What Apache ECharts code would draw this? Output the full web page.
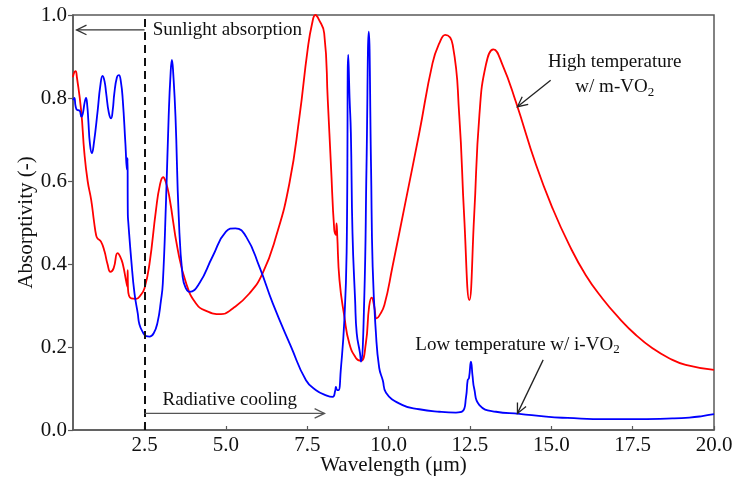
<!DOCTYPE html>
<html>
<head>
<meta charset="utf-8">
<script src="https://cdn.jsdelivr.net/npm/echarts@6/dist/echarts.min.js"></script>
<style>html,body{margin:0;padding:0;background:#fff}#c{width:743px;height:481px}</style>
</head>
<body>
<div id="c"></div>
<script>
// Wavelength (µm) and absorptivity for the high-temperature (m-VO2) curve
const highX = [0.30,0.34,0.38,0.42,0.55,0.65,0.75,0.86,0.95,1.01,1.05,1.16,1.27,1.36,1.45,1.55,1.67,1.75,1.83,1.93,1.97,1.98,1.99,2.09,2.24,2.38,2.5,2.65,2.85,2.97,3.07,3.15,3.26,3.52,3.78,4.08,4.39,4.85,5.21,5.72,6.13,6.54,6.95,7.26,7.51,7.65,7.75,7.85,8.02,8.13,8.23,8.33,8.38,8.40,8.42,8.49,8.64,8.79,9.0,9.15,9.30,9.40,9.48,9.56,9.63,9.71,9.87,10.12,10.53,10.94,11.35,11.56,11.74,11.97,12.17,12.32,12.48,12.63,12.79,12.99,13.22,13.5,13.91,14.53,15.04,15.55,16.06,16.57,17.09,17.6,18.11,18.62,19.13,20.0];
const highY = [0.85,0.862,0.865,0.85,0.77,0.667,0.60,0.554,0.50,0.47,0.462,0.454,0.43,0.40,0.381,0.39,0.426,0.418,0.40,0.36,0.345,0.385,0.34,0.317,0.316,0.325,0.342,0.40,0.53,0.59,0.609,0.598,0.562,0.434,0.353,0.305,0.287,0.279,0.293,0.329,0.378,0.466,0.594,0.755,0.916,0.98,1.0,0.99,0.956,0.795,0.634,0.482,0.47,0.498,0.47,0.361,0.273,0.209,0.173,0.167,0.209,0.297,0.319,0.297,0.269,0.275,0.301,0.394,0.554,0.715,0.884,0.932,0.952,0.928,0.759,0.518,0.313,0.518,0.759,0.880,0.917,0.880,0.791,0.639,0.534,0.446,0.373,0.317,0.269,0.229,0.197,0.173,0.157,0.145];
// Low-temperature (i-VO2) curve
const lowX = [0.30,0.34,0.38,0.43,0.50,0.56,0.60,0.66,0.70,0.74,0.77,0.82,0.88,0.94,1.06,1.14,1.21,1.27,1.32,1.40,1.47,1.52,1.57,1.65,1.71,1.77,1.83,1.91,1.96,1.975,1.985,2.0,2.09,2.19,2.29,2.34,2.45,2.55,2.65,2.78,2.9,3.0,3.06,3.16,3.24,3.30,3.34,3.38,3.45,3.55,3.67,3.78,3.88,4.18,4.59,5.0,5.29,5.62,6.03,6.44,7.0,7.46,7.77,8.1,8.28,8.36,8.38,8.42,8.46,8.53,8.64,8.71,8.76,8.80,8.84,8.89,8.97,9.02,9.12,9.15,9.25,9.32,9.39,9.46,9.51,9.61,9.71,9.82,9.92,10.43,10.94,11.56,12.07,12.27,12.38,12.43,12.47,12.53,12.58,12.63,12.79,13.3,14.02,14.84,15.5,16.68,17.5,18.72,19.24,19.6,20.0];
const lowY = [0.795,0.80,0.78,0.771,0.77,0.755,0.762,0.79,0.80,0.78,0.747,0.69,0.667,0.69,0.771,0.83,0.853,0.84,0.811,0.765,0.751,0.77,0.811,0.85,0.855,0.84,0.795,0.691,0.627,0.655,0.52,0.50,0.41,0.329,0.281,0.255,0.235,0.226,0.225,0.233,0.26,0.31,0.353,0.554,0.755,0.86,0.892,0.86,0.755,0.514,0.369,0.34,0.333,0.353,0.418,0.478,0.486,0.466,0.393,0.305,0.201,0.12,0.096,0.083,0.08,0.095,0.104,0.096,0.096,0.145,0.265,0.43,0.904,0.80,0.715,0.474,0.313,0.233,0.185,0.165,0.313,0.634,0.96,0.634,0.393,0.233,0.15,0.12,0.09,0.060,0.050,0.044,0.042,0.045,0.08,0.12,0.125,0.165,0.13,0.10,0.06,0.044,0.039,0.032,0.029,0.026,0.026,0.028,0.030,0.033,0.038];
const xTicks = [2.5,5.0,7.5,10.0,12.5,15.0,17.5,20.0];
const yTicks = [0.0,0.2,0.4,0.6,0.8,1.0];

const FONT = "'Liberation Serif','Times New Roman',serif";
const chart = echarts.init(document.getElementById('c'));
const zip = (a,b) => a.map((v,i)=>[v,b[i]]);

chart.setOption({
  animation:false,
  backgroundColor:'#fff',
  grid:{left:73,right:29,top:15,bottom:51,show:true,borderColor:'#595959',borderWidth:1.5},
  xAxis:{
    type:'value',min:0.3,max:20,
    name:'Wavelength (μm)',nameLocation:'middle',nameGap:25,nameMoveOverlap:false,
    nameTextStyle:{fontFamily:FONT,fontSize:21,color:'#111'},
    axisLine:{lineStyle:{color:'#595959',width:1.5}},
    axisTick:{inside:true,length:4,customValues:xTicks,lineStyle:{color:'#595959',width:1.2}},
    axisLabel:{customValues:xTicks,margin:5,fontFamily:FONT,fontSize:21,color:'#111',formatter:v=>v.toFixed(1)},
    splitLine:{show:false}
  },
  yAxis:{
    type:'value',min:0,max:1,interval:0.2,
    name:'Absorptivity (-)',nameLocation:'middle',nameGap:36,nameRotate:90,nameMoveOverlap:false,
    nameTextStyle:{fontFamily:FONT,fontSize:21,color:'#111'},
    axisLine:{show:true,lineStyle:{color:'#595959',width:1.5}},
    axisTick:{show:true,length:5,lineStyle:{color:'#595959',width:1.2}},
    axisLabel:{margin:6,fontFamily:FONT,fontSize:21,color:'#111',formatter:v=>v.toFixed(1)},
    splitLine:{show:false}
  },
  series:[
    {type:'line',name:'High',data:zip(highX,highY),showSymbol:false,smooth:0.5,
     lineStyle:{color:'#ff0000',width:1.8},z:3},
    {type:'line',name:'Low',data:zip(lowX,lowY),showSymbol:false,smooth:0.5,
     lineStyle:{color:'#0000ff',width:1.8},z:4,
     markLine:{silent:true,symbol:['none','none'],label:{show:false},
       lineStyle:{color:'#111',type:[8,5],width:2},
       data:[[{coord:[2.5,0]},{coord:[2.5,1]}]]}}
  ]
});

function px(x,y){return chart.convertToPixel({gridIndex:0},[x,y]);}
function arrow(from,to,color){
  const a=px(from[0],from[1]), b=px(to[0],to[1]);
  const ang=Math.atan2(b[1]-a[1],b[0]-a[0]);
  const L=11, w=0.45;
  const h1=[b[0]-L*Math.cos(ang-w), b[1]-L*Math.sin(ang-w)];
  const h2=[b[0]-L*Math.cos(ang+w), b[1]-L*Math.sin(ang+w)];
  return [
    {type:'line',shape:{x1:a[0],y1:a[1],x2:b[0],y2:b[1]},style:{stroke:color,lineWidth:1.3},z:10},
    {type:'polyline',shape:{points:[h1,b,h2]},style:{stroke:color,lineWidth:1.3,fill:null},z:10}
  ];
}
function label(x,y,text,align,rich){
  const p=px(x,y);
  return {type:'text',x:p[0],y:p[1],z:10,style:{text:text,fontFamily:FONT,fontSize:19,fill:'#111',
    align:align||'left',verticalAlign:'middle',rich:rich||{}}};
}
const subRich={sub:{fontFamily:FONT,fontSize:13,fill:'#111',padding:[10,0,0,0]}};
chart.setOption({graphic:[].concat(
  arrow([2.5,0.964],[0.41,0.964],'#333'),
  arrow([2.5,0.04],[8.03,0.04],'#555'),
  arrow([14.98,0.843],[13.96,0.779],'#222'),
  arrow([14.75,0.169],[13.96,0.04],'#222'),
  [label(2.75,0.965,'Sunlight absorption','left'),
   label(3.05,0.073,'Radiative cooling','left'),
   label(16.95,0.886,'High temperature','center'),
   label(16.95,0.826,'w/ m-VO{sub|2}','center',subRich),
   label(13.96,0.205,'Low temperature w/ i-VO{sub|2}','center',subRich)]
)});
</script>
</body>
</html>
